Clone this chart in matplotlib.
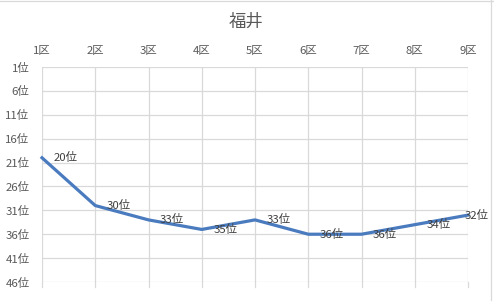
import matplotlib
matplotlib.use("Agg")
import matplotlib.pyplot as plt
from matplotlib.lines import Line2D

plt.rcParams['font.family'] = ['Noto Sans CJK JP', 'DejaVu Sans']

title = "福井"
categories = ["1区", "2区", "3区", "4区", "5区", "6区", "7区", "8区", "9区"]
ranks = [20, 30, 33, 35, 33, 36, 36, 34, 32]
ytick_values = [1, 6, 11, 16, 21, 26, 31, 36, 41, 46]
ytick_labels = [f"{v}位" for v in ytick_values]
point_labels = [f"{v}位" for v in ranks]

W, H, DPI = 494, 301, 100
fig = plt.figure(figsize=(W / DPI, H / DPI), dpi=DPI)
fig.patch.set_facecolor("white")

left, right, top, bottom = 42, 468, 67, 282
ax = fig.add_axes([left / W, 1 - bottom / H, (right - left) / W, (bottom - top) / H])

x = list(range(len(categories)))
ax.plot(x, ranks, color="#4A7BBF", lw=2.3, solid_joinstyle="round", zorder=3, clip_on=False)

ax.set_xlim(0, len(categories) - 1)
ax.set_ylim(46, 1)
ax.set_xticks(x)
ax.set_xticklabels(categories)
ax.set_yticks(ytick_values)
ax.set_yticklabels(ytick_labels)
ax.xaxis.tick_top()
ax.tick_params(axis="x", length=0, pad=8, labelsize=8.2, colors="#595959")
ax.tick_params(axis="y", length=0, pad=9, labelsize=8.2, colors="#595959")
ax.grid(True, color="#D9D9D9", lw=0.9)
for s in ax.spines.values():
    s.set_visible(False)

# tick marks below bottom gridline
for xi in x:
    ax.plot([xi, xi], [46, 47.1], color="#D9D9D9", lw=0.9, clip_on=False, zorder=1)

for i, (xi, yi, lab) in enumerate(zip(x, ranks, point_labels)):
    dx = 17 if i < len(x) - 1 else 6
    ax.annotate(lab, (xi, yi), xytext=(dx, 0), textcoords="offset points",
                ha="center", va="center", fontsize=8.2, color="#404040", zorder=4)

fig.text(246 / W, 1 - 22 / H, title, ha="center", va="center", fontsize=12.5, color="#595959")

# chart area border (top and right)
fig.add_artist(Line2D([0, 1], [1 - 0.5 / H, 1 - 0.5 / H], transform=fig.transFigure, color="#D9D9D9", lw=0.9))
fig.add_artist(Line2D([490.5 / W, 490.5 / W], [0, 1], transform=fig.transFigure, color="#D9D9D9", lw=0.9))

fig.savefig("out.png", dpi=DPI)
